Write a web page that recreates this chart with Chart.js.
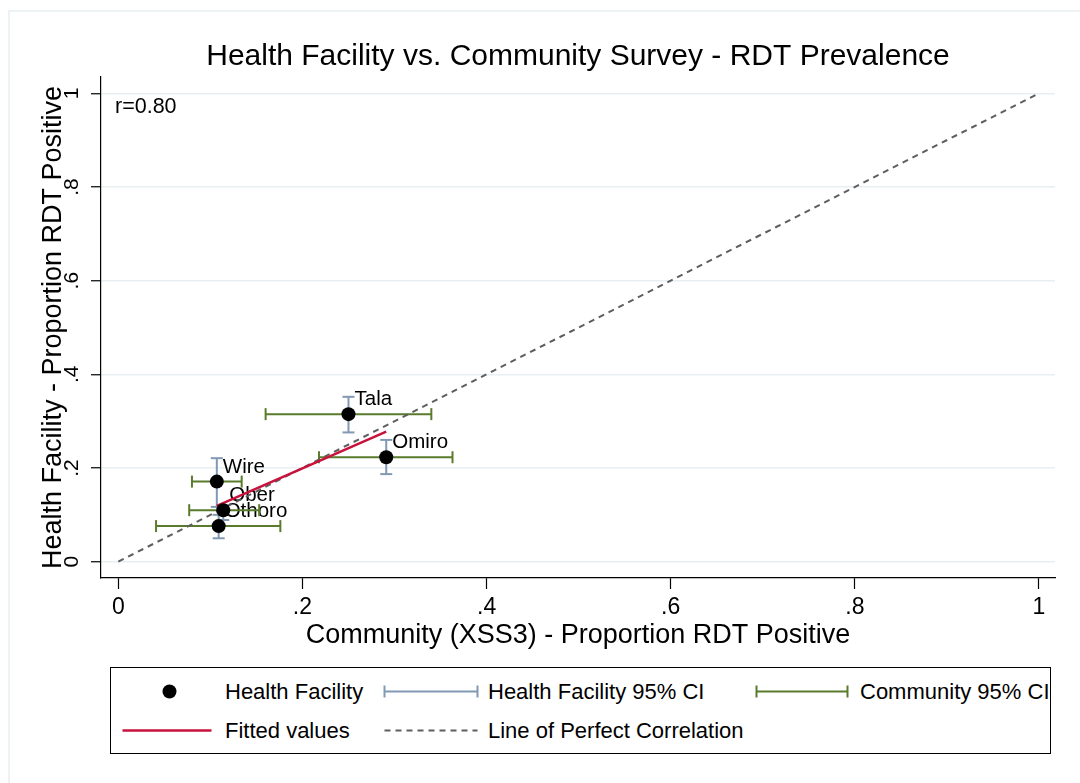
<!DOCTYPE html>
<html>
<head>
<meta charset="utf-8">
<script src="https://cdn.jsdelivr.net/npm/chart.js@4/dist/chart.umd.min.js"></script>
<style>
html,body{margin:0;padding:0;background:#fff;}
#wrap{position:relative;width:1080px;height:783px;overflow:hidden;font-family:'Liberation Sans',Arial,sans-serif;background:#fff;}
#frame{position:absolute;left:8px;top:10px;width:1100px;height:800px;border-left:2px solid #edf2f4;border-top:2px solid #edf2f4;}
#c{position:absolute;left:0;top:0;}
#legend{position:absolute;left:110px;top:667px;width:941px;height:87px;border:1.5px solid #000;box-sizing:border-box;overflow:hidden;background:#fff;}
.lt{position:absolute;font-size:22px;line-height:30px;white-space:nowrap;color:#000;}
#legend svg{position:absolute;left:0;top:0;}
</style>
</head>
<body>
<div id="wrap">
  <div id="frame"></div>
  <canvas id="c" width="1080" height="783"></canvas>
  <div id="legend"></div>
</div>
<script>
// ---- data ----
const places       = ['Tala', 'Omiro', 'Wire', 'Ober', 'Othoro'];
const communityX   = [0.250, 0.291, 0.107, 0.114, 0.109];
const facilityY    = [0.315, 0.223, 0.171, 0.110, 0.076];
const facilityLo   = [0.276, 0.187, 0.117, 0.089, 0.050];
const facilityHi   = [0.352, 0.260, 0.221, 0.121, 0.100];
const communityLo  = [0.160, 0.218, 0.080, 0.077, 0.041];
const communityHi  = [0.340, 0.363, 0.134, 0.153, 0.176];
const fitX         = [0.107, 0.291];
const fitY         = [0.119, 0.2775];
const perfectX     = [0, 1];
const perfectY     = [0, 1];
const xTicks       = [0, 0.2, 0.4, 0.6, 0.8, 1];
const xTickLabels  = ['0', '.2', '.4', '.6', '.8', '1'];
const yTicks       = [0, 0.2, 0.4, 0.6, 0.8, 1];
const yTickLabels  = ['0', '.2', '.4', '.6', '.8', '1'];
const correlationText = 'r=0.80';
const titleText  = 'Health Facility vs. Community Survey - RDT Prevalence';
const xTitleText = 'Community (XSS3) - Proportion RDT Positive';
const yTitleText = 'Health Facility - Proportion RDT Positive';
const legendLabels = ['Health Facility', 'Health Facility 95% CI', 'Community 95% CI', 'Fitted values', 'Line of Perfect Correlation'];

// ---- styles ----
const FONT = "'Liberation Sans', Arial, sans-serif";
const C_HF = '#8299b5';
const C_COM = '#5a7b2c';
const C_FIT = '#c8123c';
const C_PERF = '#5e5e5e';
const C_GRID = '#e8eff2';

Chart.defaults.font.family = FONT;
Chart.defaults.color = '#000';

const pts = communityX.map((x, i) => ({x, y: facilityY[i]}));
const hfData = [];
communityX.forEach((x, i) => { hfData.push({x, y: facilityLo[i]}, {x, y: facilityHi[i]}, {x, y: null}); });
const comData = [];
facilityY.forEach((y, i) => { comData.push({x: communityLo[i], y}, {x: communityHi[i], y}, {x: communityHi[i], y: null}); });
const fitData = fitX.map((x, i) => ({x, y: fitY[i]}));
const perfData = perfectX.map((x, i) => ({x, y: perfectY[i]}));

const annot = {
  id: 'annot',
  beforeDatasetsDraw(chart) {
    const ctx = chart.ctx, xs = chart.scales.x, ys = chart.scales.y;
    ctx.save();
    ctx.fillStyle = '#000';
    ctx.font = '20.5px ' + FONT;
    ctx.textBaseline = 'alphabetic';
    ctx.textAlign = 'left';
    places.forEach((p, i) => {
      const px = xs.getPixelForValue(communityX[i]);
      const py = ys.getPixelForValue(facilityY[i]);
      ctx.fillText(p, px + 6, py - 9);
    });
    ctx.font = '21.5px ' + FONT;
    ctx.fillText(correlationText, chart.chartArea.left + 14, ys.getPixelForValue(1) + 20);
    ctx.restore();
  },
  afterDraw(chart) {
    const ctx = chart.ctx, ys = chart.scales.y, a = chart.chartArea;
    ctx.save();
    ctx.fillStyle = '#000';
    ctx.textAlign = 'center';
    ctx.textBaseline = 'middle';
    ctx.font = '21px ' + FONT;
    yTicks.forEach((v, i) => {
      const py = ys.getPixelForValue(v);
      ctx.save();
      ctx.translate(72, py);
      ctx.rotate(-Math.PI / 2);
      ctx.fillText(yTickLabels[i], 0, 0);
      ctx.restore();
    });
    ctx.font = '27px ' + FONT;
    ctx.translate(54, (a.top + a.bottom) / 2);
    ctx.rotate(-Math.PI / 2);
    ctx.fillText(yTitleText, 0, 0);
    ctx.restore();
  }
};

new Chart(document.getElementById('c'), {
  type: 'scatter',
  data: {
    datasets: [
      {label: legendLabels[0], data: pts, order: 0, pointRadius: 7, pointBackgroundColor: '#000', pointBorderColor: '#000', pointBorderWidth: 0, showLine: false},
      {label: legendLabels[3], data: fitData, order: 1, showLine: true, borderColor: C_FIT, borderWidth: 2.5, pointRadius: 0, fill: false},
      {label: legendLabels[4], data: perfData, order: 2, showLine: true, borderColor: C_PERF, borderWidth: 2, borderDash: [6, 5], pointRadius: 0, fill: false},
      {label: legendLabels[2], data: comData, order: 3, showLine: true, spanGaps: false, borderColor: C_COM, borderWidth: 2, pointStyle: 'line', pointRotation: 90, pointRadius: 6, pointBorderColor: C_COM, pointBorderWidth: 2, fill: false},
      {label: legendLabels[1], data: hfData, order: 4, showLine: true, spanGaps: false, borderColor: C_HF, borderWidth: 2, pointStyle: 'line', pointRotation: 0, pointRadius: 6, pointBorderColor: C_HF, pointBorderWidth: 2, fill: false}
    ]
  },
  options: {
    responsive: false,
    devicePixelRatio: 1,
    animation: false,
    events: [],
    layout: {padding: {left: 76, right: 25, top: 0, bottom: 131}},
    plugins: {
      legend: {display: false},
      tooltip: {enabled: false},
      title: {display: true, text: titleText, fullSize: false, color: '#000', font: {size: 30, weight: 'normal'}, padding: {top: 39, bottom: 2}}
    },
    scales: {
      x: {
        type: 'linear', min: -0.0188, max: 1.0174,
        afterBuildTicks: s => { s.ticks = xTicks.map(v => ({value: v})); },
        afterFit: s => { s.height = 74; },
        ticks: {callback: (v, i) => xTickLabels[i], font: {size: 23}, color: '#000', padding: 5, maxRotation: 0, minRotation: 0, autoSkip: false},
        grid: {drawOnChartArea: false, drawTicks: true, tickLength: 11, color: '#000', tickColor: '#000', tickWidth: 1.2},
        border: {display: true, color: '#000', width: 1.2},
        title: {display: true, text: xTitleText, color: '#000', font: {size: 27}, padding: {top: 0, bottom: 0}}
      },
      y: {
        type: 'linear', min: -0.0348, max: 1.0348,
        afterBuildTicks: s => { s.ticks = yTicks.map(v => ({value: v})); },
        afterFit: s => { s.width = 25; },
        ticks: {display: false},
        grid: {drawOnChartArea: true, drawTicks: true, tickLength: 10, color: C_GRID, lineWidth: 1.5, tickColor: '#000', tickWidth: 1.2},
        border: {display: true, color: '#000', width: 1.2}
      }
    }
  },
  plugins: [annot]
});

// ---- legend (HTML) ----
(function () {
  const lg = document.getElementById('legend');
  const ox = 111.5, oy = 668.5;
  const r1 = 692 - oy, r2 = 731 - oy;
  const ns = 'http://www.w3.org/2000/svg';
  const svg = document.createElementNS(ns, 'svg');
  svg.setAttribute('width', 948); svg.setAttribute('height', 87);
  function el(tag, attrs) { const e = document.createElementNS(ns, tag); for (const k in attrs) e.setAttribute(k, attrs[k]); svg.appendChild(e); return e; }
  el('circle', {cx: 170 - ox, cy: r1, r: 7, fill: '#000'});
  function cap(x1, x2, y, col) {
    el('line', {x1: x1 - ox, x2: x2 - ox, y1: y, y2: y, stroke: col, 'stroke-width': 2});
    el('line', {x1: x1 - ox, x2: x1 - ox, y1: y - 6, y2: y + 6, stroke: col, 'stroke-width': 2});
    el('line', {x1: x2 - ox, x2: x2 - ox, y1: y - 6, y2: y + 6, stroke: col, 'stroke-width': 2});
  }
  cap(385, 478, r1, C_HF);
  cap(757, 848, r1, C_COM);
  el('line', {x1: 123 - ox, x2: 212 - ox, y1: r2, y2: r2, stroke: C_FIT, 'stroke-width': 2.5});
  el('line', {x1: 385 - ox, x2: 478 - ox, y1: r2, y2: r2, stroke: C_PERF, 'stroke-width': 2, 'stroke-dasharray': '6 5'});
  lg.appendChild(svg);
  const items = [
    [legendLabels[0], 225.5, r1], [legendLabels[1], 488.5, r1], [legendLabels[2], 860.5, r1],
    [legendLabels[3], 225.5, r2], [legendLabels[4], 488.5, r2]
  ];
  items.forEach(([t, x, y]) => {
    const s = document.createElement('span');
    s.className = 'lt'; s.textContent = t;
    s.style.left = (x - ox) + 'px'; s.style.top = (y - 15) + 'px';
    lg.appendChild(s);
  });
})();
</script>
</body>
</html>
